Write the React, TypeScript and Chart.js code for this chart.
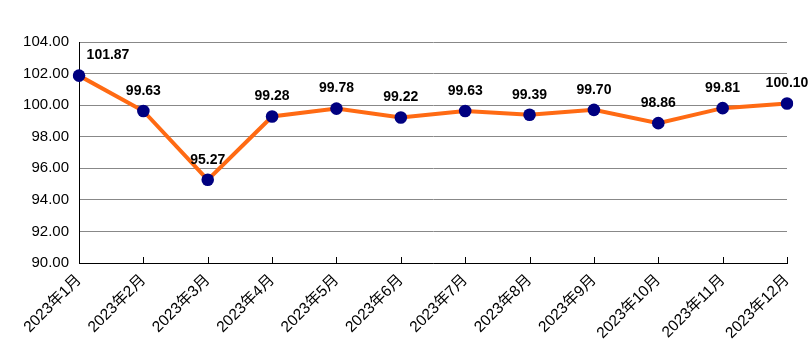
import React, { useEffect, useRef } from "react";
import { Chart, registerables } from "chart.js";

Chart.register(...registerables);

const categories = [
  "2023年1月", "2023年2月", "2023年3月", "2023年4月", "2023年5月", "2023年6月",
  "2023年7月", "2023年8月", "2023年9月", "2023年10月", "2023年11月", "2023年12月",
];
const values = [101.87, 99.63, 95.27, 99.28, 99.78, 99.22, 99.63, 99.39, 99.7, 98.86, 99.81, 100.1];
const yMin = 90;
const yMax = 104;
const yStep = 2;

const FONT = "'Liberation Sans', Arial, 'Noto Sans CJK SC', sans-serif";

const innerTicks = {
  id: "innerTicks",
  afterDraw(chart: any) {
    const ctx = chart.ctx;
    const xs = chart.scales.x;
    const area = chart.chartArea;
    ctx.save();
    ctx.strokeStyle = "#000";
    ctx.lineWidth = 1;
    ctx.beginPath();
    for (let i = 0; i < xs.ticks.length; i++) {
      const px = Math.round(xs.getPixelForTick(i)) + 0.5;
      ctx.moveTo(px, area.bottom);
      ctx.lineTo(px, area.bottom - 6);
    }
    ctx.stroke();
    ctx.restore();
  },
};

const dataLabels = {
  id: "dataLabels",
  afterDatasetsDraw(chart: any) {
    const ctx = chart.ctx;
    const meta = chart.getDatasetMeta(0);
    const ds = chart.data.datasets[0];
    ctx.save();
    ctx.font = `bold 14px ${FONT}`;
    ctx.fillStyle = "#000";
    ctx.textAlign = "center";
    ctx.textBaseline = "middle";
    meta.data.forEach((pt: any, i: number) => {
      const dx = i === 0 ? 29 : 0;
      ctx.fillText(Number(ds.data[i]).toFixed(2), pt.x + dx, pt.y - 20);
    });
    ctx.restore();
  },
};

export default function App() {
  const ref = useRef<HTMLCanvasElement>(null);
  useEffect(() => {
    if (!ref.current) return;
    const chart = new Chart(ref.current, {
      type: "line",
      data: {
        labels: categories,
        datasets: [
          {
            data: values,
            borderColor: "#FF6A13",
            borderWidth: 4,
            backgroundColor: "#000080",
            pointBackgroundColor: "#000080",
            pointBorderColor: "#000080",
            pointRadius: 6.3,
            pointBorderWidth: 0,
            tension: 0,
            fill: false,
          },
        ],
      },
      options: {
        responsive: false,
        animation: false,
        devicePixelRatio: 1,
        layout: { padding: { left: 0, right: 25, top: 42, bottom: 0 } },
        plugins: { legend: { display: false }, tooltip: { enabled: false } },
        scales: {
          x: {
            offset: false,
            grid: { display: false },
            border: { display: true, color: "#000", width: 1 },
            ticks: {
              color: "#000",
              font: { family: FONT, size: 15.5 },
              minRotation: 45,
              maxRotation: 45,
              padding: 0,
              autoSkip: false,
            },
            afterFit(scale: any) {
              scale.height = 98;
            },
          },
          y: {
            min: yMin,
            max: yMax,
            grid: { color: "#888", lineWidth: 1, drawTicks: false },
            border: { display: true, color: "#000", width: 1 },
            ticks: {
              stepSize: yStep,
              color: "#000",
              padding: 10,
              font: { family: FONT, size: 15 },
              callback: (v: any) => Number(v).toFixed(2),
            },
            afterFit(scale: any) {
              scale.width = 79;
            },
          },
        },
      },
      plugins: [innerTicks, dataLabels],
    });
    return () => chart.destroy();
  }, []);
  return (
    <div style={{ position: "absolute", left: 0, top: 0, width: 812, height: 361, background: "#fff" }}>
      <canvas ref={ref} width={812} height={361} style={{ width: 812, height: 361 }} />
    </div>
  );
}
